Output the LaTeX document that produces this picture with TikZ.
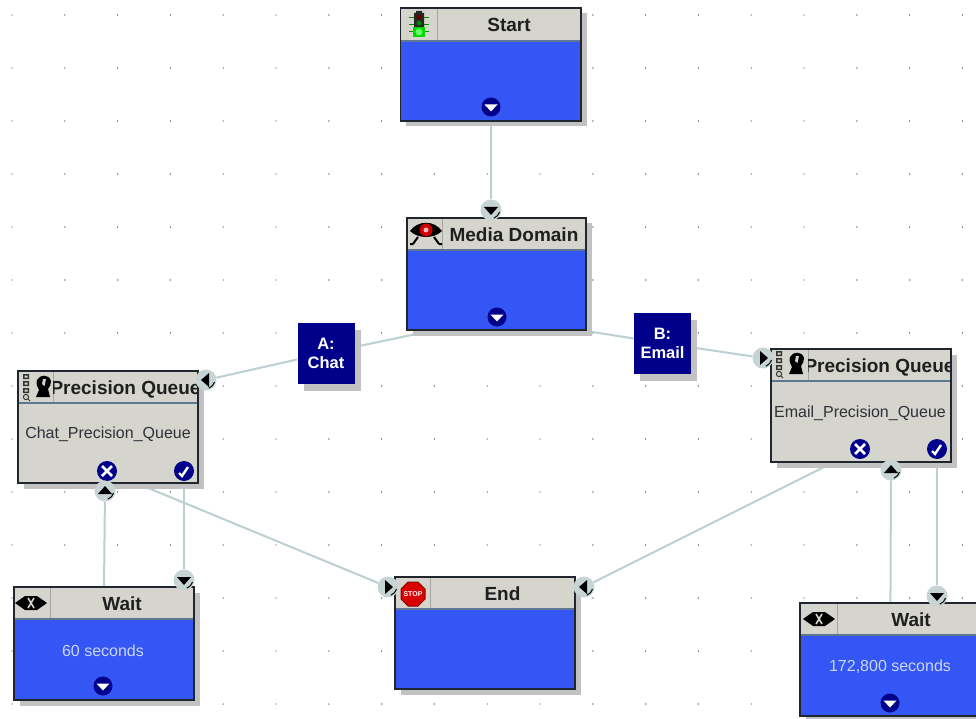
\documentclass[tikz,border=0pt]{standalone}
\usepackage{fontspec}
\setmainfont{Liberation Sans}
\usetikzlibrary{shadows,backgrounds}
\definecolor{bodyblue}{HTML}{3456F4}
\definecolor{headgray}{HTML}{D5D4CD}
\definecolor{navyc}{HTML}{00008A}
\definecolor{edgec}{HTML}{BCD0D4}
\definecolor{portgray}{HTML}{C6D4D4}
\definecolor{linec}{HTML}{20262E}
\definecolor{shadowc}{HTML}{C2C2C2}
\definecolor{softw}{HTML}{CBD6F6}
\definecolor{bodytext}{HTML}{30303A}
\definecolor{headrule}{HTML}{5F7690}
\tikzset{
  x=1pt,y=-1pt,
  blockbody/.style={anchor=north west,inner sep=0pt,outer sep=0pt,line width=0pt,
    general shadow={fill=shadowc,shadow xshift=5.5pt,shadow yshift=-5.5pt}},
  blockframe/.style={draw=linec,line width=1.5pt},
  title/.style={font=\fontsize{19}{21}\selectfont\bfseries,text=black!88,inner sep=0pt,text height=14pt,text depth=0pt},
  bodylabel/.style={font=\fontsize{16}{18}\selectfont,inner sep=0pt,text=#1},
  edge/.style={draw=edgec,line width=2pt},
  branch/.style={fill=navyc,text=white,font=\fontsize{16.5}{19}\selectfont\bfseries,align=center,inner sep=0pt,
    minimum width=57pt,minimum height=61pt,
    general shadow={fill=shadowc,shadow xshift=6pt,shadow yshift=-7pt}},
  griddot/.style={fill=black!70,inner sep=0pt,minimum size=1.4pt,circle},
  outport/.style={circle,fill=navyc,inner sep=0pt,minimum size=19pt,
    path picture={\fill[white] (path picture bounding box.center) ++(-6.5,-2.5) -- ++(13,0) -- ++(-6.5,7) -- cycle;}},
  crossport/.style={circle,fill=navyc,inner sep=0pt,minimum size=20pt,
    path picture={\draw[white,line width=2.8pt] (path picture bounding box.center) ++(-5,-5) -- ++(10,10) ++(-10,0) -- ++(10,-10);}},
  checkport/.style={circle,fill=navyc,inner sep=0pt,minimum size=20pt,
    path picture={\draw[white,line width=2.4pt] (path picture bounding box.center) ++(-5,2) -- ++(3,3) -- ++(6,-9);}},
  inbase/.style={circle,fill=portgray,inner sep=0pt,minimum size=21pt},
  inD/.style={inbase,path picture={
    \fill[black] (path picture bounding box.center) ++(-7,-3) -- ++(14,0) -- ++(-7,8) -- cycle;
    \draw[black,line width=1pt] (path picture bounding box.center) ++(8.5,2) arc[start angle=-15,end angle=-70,radius=9pt];}},
  inU/.style={inbase,path picture={
    \fill[black] (path picture bounding box.center) ++(-7,3) -- ++(14,0) -- ++(-7,-8) -- cycle;
    \draw[black,line width=1pt] (path picture bounding box.center) ++(8.5,2) arc[start angle=-15,end angle=-70,radius=9pt];}},
  inL/.style={inbase,path picture={
    \fill[black] (path picture bounding box.center) ++(3,-7) -- ++(0,14) -- ++(-8,-7) -- cycle;
    \draw[black,line width=1pt] (path picture bounding box.center) ++(8.5,2) arc[start angle=-15,end angle=-70,radius=9pt];}},
  inR/.style={inbase,path picture={
    \fill[black] (path picture bounding box.center) ++(-3,-7) -- ++(0,14) -- ++(8,-7) -- cycle;
    \draw[black,line width=1pt] (path picture bounding box.center) ++(8.5,2) arc[start angle=-15,end angle=-70,radius=9pt];}},
}
% name, x0, y0, x1, y1, header bottom, icon separator, body colour, title
\newcommand{\FlowBlock}[9]{%
  \node[blockbody,fill=#8,minimum width={(#4-#2)*1pt},minimum height={(#5-#3)*1pt}] (#1) at (#2,#3) {};
  \fill[headgray] (#2,#3) rectangle (#4,#6);
  \draw[black!35,line width=1pt] (#7,#3) -- (#7,#6);
  \begin{scope}
    \clip (#7,#3) rectangle (#4,#6);
    \node[title] (#1title) at ({(#7+#4)/2},{(#3+#6)/2}) {#9};
  \end{scope}
  \draw[headrule,line width=1.6pt] (#2,#6) -- (#4,#6);
  \draw[blockframe] (#2,#3) rectangle (#4,#5);
}
\newcommand{\IconLight}[2]{\begin{scope}[shift={(#1,#2)}]
  \draw[green!55!black,line width=.8pt] (-10,-7) -- (10,-7) (-10,0) -- (10,0) (-10,7) -- (10,7);
  \fill[black!85] (-5,-11) rectangle (5,4) (-3,-13) rectangle (3,-11);
  \fill[black!60!red] (0,-7) circle (2.6);
  \fill[black!50!green] (0,-1) circle (2.6);
  \fill[green!85!black] (-6,3) rectangle (6,13);
  \fill[green!60!white] (0,8) circle (3.4);
\end{scope}}
\newcommand{\IconEye}[2]{\begin{scope}[shift={(#1,#2)}]
  \fill[black] (-16,0) .. controls (-8,-11) and (8,-11) .. (16,0) .. controls (8,8) and (-8,8) .. cycle;
  \fill[red!80!black] (0,-1) circle (6.5);
  \fill[red!30!white] (0,-1) circle (2.5);
  \draw[black,line width=2pt] (-8,6) -- (-13,13) (-13,13) -- (-16,13) (8,6) -- (13,13) (13,13) -- (16,13);
\end{scope}}
\newcommand{\IconStop}[2]{\begin{scope}[shift={(#1,#2)}]
  \fill[red!85!black,draw=red!55!black,line width=1pt] (-5,-12) -- (5,-12) -- (12,-5) -- (12,5) -- (5,12) -- (-5,12) -- (-12,5) -- (-12,-5) -- cycle;
  \node[inner sep=0pt,text=white,font=\fontsize{7}{8}\selectfont\bfseries] (stopsign) at (0,0) {STOP};
\end{scope}}
\newcommand{\IconGlass}[2]{\begin{scope}[shift={(#1,#2)}]
  \fill[black] (-16,0) -- (-6,-7) -- (6,-7) -- (16,0) -- (6,7) -- (-6,7) -- cycle;
  \draw[headgray,line width=1.6pt] (-3,-5) -- (3,5) (3,-5) -- (-3,5);
\end{scope}}
\newcommand{\IconQueue}[2]{\begin{scope}[shift={(#1,#2)}]
  \fill[black!80] (-6,-14) rectangle (0,-9) (-6,-7) rectangle (0,-2) (-6,0) rectangle (0,5);
  \fill[headgray] (-4.5,-12.5) rectangle (-1.5,-10.5) (-4.5,-5.5) rectangle (-1.5,-3.5) (-4.5,1.5) rectangle (-1.5,3.5);
  \draw[black!80,line width=1pt] (-3,9) circle (2.6) (-1,11) -- (1,13);
  \fill[black] (8,-8) .. controls (11,-14) and (20,-14) .. (22,-7) .. controls (22,-4) and (21,-1) .. (19,1)
     -- (21,9) -- (7,9) -- (10,2) .. controls (8,-1) and (7,-4) .. cycle;
  \fill[headgray] (14,-9) -- (17,-9) -- (15.5,-2) -- (13,-4) -- cycle;
\end{scope}}
\begin{document}
\begin{tikzpicture}
\path[use as bounding box,clip] (0,0) rectangle (976,719);

\FlowBlock{startb}{400.5}{8}{581}{121}{41}{437}{bodyblue}{Start}
\FlowBlock{mediab}{407}{218}{586}{330}{250}{442}{bodyblue}{Media Domain}
\FlowBlock{chatb}{18}{371}{198}{483}{403}{53}{headgray}{Precision Queue}
\FlowBlock{emailb}{771}{349}{951}{462}{381}{808}{headgray}{Precision Queue}
\FlowBlock{endb}{395}{577}{575}{689}{609}{430}{bodyblue}{End}
\FlowBlock{waitl}{14}{587}{194}{700}{619}{50}{bodyblue}{Wait}
\FlowBlock{waitr}{800}{603}{985}{716}{635}{837}{bodyblue}{Wait}

\IconLight{419}{24}
\IconEye{426}{231}
\IconQueue{29}{388}
\IconQueue{782}{365}
\IconStop{413}{594}
\IconGlass{31}{603}
\IconGlass{819}{619}

\node[bodylabel=bodytext] (chatq) at (108,434.5) {Chat\_Precision\_Queue};
\node[bodylabel=bodytext] (emailq) at (860,413) {Email\_Precision\_Queue};
\node[bodylabel=softw] (sixty) at (103,651) {60 seconds};
\node[bodylabel=softw] (long) at (890,667) {172,800 seconds};

\node[branch] (labela) at (326,353) {A:\\Chat};
\node[branch] (labelb) at (662.5,343) {B:\\Email};

\node[outport] (startout) at (491,107) {};
\node[outport] (mediaout) at (497,317) {};
\node[outport] (waitlout) at (103,686) {};
\node[outport] (waitrout) at (890,703) {};
\node[crossport] (chatx) at (107,471) {};
\node[checkport] (chatok) at (184,471) {};
\node[crossport] (emailx) at (860,449) {};
\node[checkport] (emailok) at (937,449) {};

\node[inD] (mediain) at (491,210) {};
\node[inL] (chatin) at (206,380) {};
\node[inR] (emailin) at (763,358) {};
\node[inR] (endinl) at (388,587) {};
\node[inL] (endinr) at (584,587) {};
\node[inU] (chatback) at (105,491) {};
\node[inU] (emailback) at (891,470) {};
\node[inD] (waitlin) at (184,580) {};
\node[inD] (waitrin) at (937,596) {};

\begin{scope}[on background layer]
  \fill[white] (0,0) rectangle (976,719);
  \foreach \i in {0,...,18} \foreach \j in {0,...,13}
    \node[griddot] at ({12+52.8*\i},{15+53*\j}) {};
  \draw[edge] (startout) -- (mediain);
  \draw[edge] (mediaout) -- (labela);
  \draw[edge] (labela) -- (chatin);
  \draw[edge] (mediaout) -- (labelb);
  \draw[edge] (labelb) -- (emailin);
  \draw[edge] (chatx) -- (endinl);
  \draw[edge] (chatok) -- (waitlin);
  \draw[edge] (waitlout) -- (chatback);
  \draw[edge] (emailx) -- (endinr);
  \draw[edge] (emailok) -- (waitrin);
  \draw[edge] (waitrout) -- (emailback);
\end{scope}
\end{tikzpicture}
\end{document}
